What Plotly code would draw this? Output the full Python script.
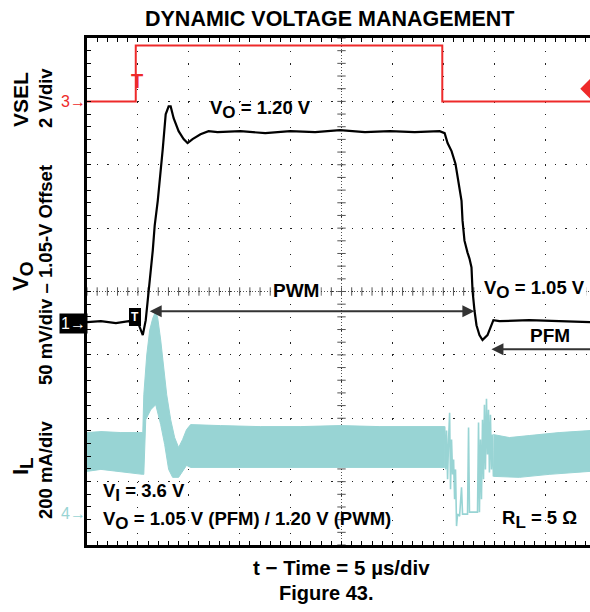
import numpy as np
import plotly.graph_objects as go

# ---------------- data (read from the scope shot) ----------------
# time in µs measured from the left edge of the screen, 5 µs/div
US_PER_DIV = 5
X_SPAN_US = 49.41          # visible part of the 10-div screen

# CH3 : VSEL (V)
vsel_t = [0.0, 4.79, 4.79, 34.9, 34.9, 49.41]
vsel_v = [0.0, 0.0, 1.76, 1.76, 0.0, 0.0]
vsel_trig_v = 0.4

# CH1 : VO (V)
vo_t = [0.00, 1.37, 2.84, 4.11, 4.99, 5.48, 5.77, 6.07, 6.46, 6.65, 6.95, 7.44, 7.73, 8.02,
        8.22, 8.51, 9.00, 9.49, 9.88, 10.37, 11.15, 11.94, 12.82, 15.07, 17.51, 19.96, 22.41,
        24.85, 27.30, 29.75, 32.19, 34.64, 35.13, 35.42, 35.81, 36.20, 36.40, 36.60, 36.79,
        36.89, 37.08, 37.38, 37.57, 37.77, 37.87, 38.06, 38.26, 38.55, 38.85, 39.34, 39.73,
        39.92, 40.51, 43.44, 46.38, 49.41]
vo_v = [1.0508, 1.0516, 1.0500, 1.0516, 1.0508, 1.0406, 1.0524, 1.0743, 1.1073, 1.1269,
        1.1465, 1.1874, 1.2148, 1.2210, 1.2210, 1.2117, 1.2015, 1.1952, 1.1921, 1.1952,
        1.1991, 1.2015, 1.2007, 1.2015, 1.1999, 1.2015, 1.2007, 1.2023, 1.2007, 1.2015,
        1.2007, 1.2015, 1.1999, 1.1921, 1.1858, 1.1756, 1.1662, 1.1544, 1.1465, 1.1309,
        1.1151, 1.1057, 1.1010, 1.0940, 1.0759, 1.0602, 1.0484, 1.0406, 1.0367, 1.0406,
        1.0484, 1.0524, 1.0516, 1.0524, 1.0516, 1.0508]

# CH4 : IL (mA) – switching-ripple envelope, start-up + PWM part
il1_top_t = [0.0, 1.37, 3.33, 5.48, 5.58, 5.87, 6.16, 6.46, 6.75, 6.95, 7.24, 7.53, 7.83,
             8.22, 8.61, 9.00, 9.39, 9.78, 10.18, 13.11, 17.03, 20.94, 24.85, 28.77, 32.68, 35.13]
il1_top_i = [254.8, 257.9, 254.8, 254.8, 374.1, 499.7, 578.2, 615.9, 637.8, 615.9, 546.8,
             452.6, 374.1, 295.6, 239.1, 207.7, 232.8, 264.2, 279.9, 276.8, 273.6, 273.6,
             276.8, 273.6, 273.6, 273.6]
il1_bot_t = [0.0, 1.37, 3.33, 5.48, 5.58, 5.77, 6.26, 6.75, 7.24, 7.63, 8.02, 8.41, 9.00,
             9.39, 9.78, 10.18, 13.11, 20.94, 28.77, 35.13]
il1_bot_i = [132.3, 138.6, 132.3, 122.9, 122.9, 295.6, 327.0, 342.7, 279.9, 217.1, 138.6,
             113.5, 113.5, 132.3, 151.2, 144.9, 144.9, 144.9, 144.9, 144.9]
# transition PWM -> PFM
ild_t = [35.13, 35.23, 35.32, 35.42, 35.52, 35.62, 35.71, 35.81, 35.91, 36.01, 36.11, 36.20,
         36.30, 36.40, 36.60, 36.79, 36.89, 37.38, 37.48, 37.57, 38.36, 38.46, 38.55, 38.65,
         38.75, 38.85, 38.95, 39.04, 39.14, 39.24, 39.34, 39.44, 39.53, 39.63, 39.73, 39.83, 39.92]
ild_i = [273.6, 138.6, 261.1, 107.2, 232.8, 317.6, 75.8, 232.8, 122.9, 170.0, 44.4, 138.6,
         -40.3, -2.7, -8.9, 82.1, -2.7, -2.7, 270.5, 3.6, 3.6, 286.2, 3.6, 232.8, 44.4, 295.6,
         107.2, 342.7, 138.6, 361.5, 185.7, 327.0, 129.2, 311.3, 138.6, 248.5, 116.6]
# PFM part
il2_top_t = [39.92, 41.49, 43.44, 46.38, 49.41]
il2_top_i = [248.5, 239.1, 245.4, 254.8, 261.1]
il2_bot_t = [39.92, 42.47, 45.40, 49.41]
il2_bot_i = [116.6, 113.5, 122.9, 132.3]

# channel settings (ground-marker position in divisions, scale per div)
N_DIV_Y = 8
CH3_POS, CH3_SCALE = 7.0, 2.0          # V/div
CH1_POS, CH1_SCALE, CH1_OFFS = 3.5, 0.05, 1.05
CH4_POS, CH4_SCALE = 0.5, 200.0        # mA/div

# ---------------- styling ----------------
RED = "#ee2a2a"
CYAN = "#98d4d4"
FONT = "Liberation Sans, Arial, sans-serif"
W, H = 590, 612
L, R, T, B = 87, 0, 38, 67
PW, PH = W - L - R, H - T - B


def P(px, py):
    return (px - L) / PW, (H - B - py) / PH


fig = go.Figure()

# current band(s)
fig.add_trace(go.Scatter(x=il1_top_t + il1_bot_t[::-1], y=il1_top_i + il1_bot_i[::-1],
                         fill="toself", fillcolor=CYAN, mode="lines",
                         line=dict(color=CYAN, width=1), yaxis="y4", hoverinfo="skip"))
fig.add_trace(go.Scatter(x=il2_top_t + il2_bot_t[::-1], y=il2_top_i + il2_bot_i[::-1],
                         fill="toself", fillcolor=CYAN, mode="lines",
                         line=dict(color=CYAN, width=1), yaxis="y4", hoverinfo="skip"))
fig.add_trace(go.Scatter(x=ild_t, y=ild_i, mode="lines",
                         line=dict(color=CYAN, width=1.6), yaxis="y4", hoverinfo="skip"))
# VSEL
fig.add_trace(go.Scatter(x=vsel_t, y=vsel_v, mode="lines",
                         line=dict(color=RED, width=2), yaxis="y2"))
fig.add_trace(go.Scatter(x=[X_SPAN_US], y=[vsel_trig_v], mode="markers",
                         marker=dict(symbol="diamond", size=15, color=RED), yaxis="y2",
                         cliponaxis=False))
# VO
fig.add_trace(go.Scatter(x=vo_t, y=vo_v, mode="lines",
                         line=dict(color="black", width=2.2), yaxis="y3"))

# centre cross-hair ticks of the graticule
cx = US_PER_DIV * 5
ticks_x = np.arange(0, X_SPAN_US, US_PER_DIV / 5)
ticks_y = np.arange(0, N_DIV_Y + 0.01, 0.2)
fig.add_trace(go.Scatter(x=ticks_x, y=[N_DIV_Y / 2] * len(ticks_x), mode="markers",
                         marker=dict(symbol="line-ns", size=6, line=dict(color="#555", width=1)),
                         hoverinfo="skip"))
fig.add_trace(go.Scatter(x=[cx] * len(ticks_y), y=ticks_y, mode="markers",
                         marker=dict(symbol="line-ew", size=6, line=dict(color="#555", width=1)),
                         hoverinfo="skip"))

shapes = [
    dict(type="line", xref="x", yref="y", x0=0, x1=X_SPAN_US, y0=N_DIV_Y / 2, y1=N_DIV_Y / 2,
         line=dict(color="#555", width=1, dash="1px,2px"), layer="below"),
    dict(type="line", xref="x", yref="y", x0=cx, x1=cx, y0=0, y1=N_DIV_Y,
         line=dict(color="#555", width=1, dash="1px,2px"), layer="below"),
]

ann = []
SUB = '<sub><span style="font-size:{}px">{}</span></sub>'


def text(px, py, s, size=19, color="black", xanchor="center", angle=0, bold=True, **kw):
    x, y = P(px, py)
    ann.append(dict(x=x, y=y, xref="paper", yref="paper", text=s, showarrow=False,
                    xanchor=xanchor, yanchor="middle", textangle=angle,
                    font=dict(family=FONT, size=size, color=color,
                              weight="bold" if bold else "normal"), **kw))


text(329, 19, "DYNAMIC VOLTAGE MANAGEMENT", size=21.5)
text(21, 100, "VSEL", size=21, angle=-90)
text(45, 98, "2 V/div", size=18.5, angle=-90)
text(22, 277, "V" + SUB.format(19, "O"), size=22, angle=-90)
text(45, 275, "50 mV/div \u2013 1.05-V Offset", size=18.5, angle=-90)
text(22, 466, "I" + SUB.format(19, "L"), size=22, angle=-90)
text(45, 470, "200 mA/div", size=18.5, angle=-90)

text(208, 110, "V" + SUB.format(17, "O") + " = 1.20 V", size=18.5, xanchor="left")
text(296, 290, "PWM", size=19, bgcolor="white")
text(482, 289, "V" + SUB.format(17, "O") + " = 1.05 V", size=18.5, xanchor="left",
     bgcolor="white")
text(550, 335, "PFM", size=19)
text(101, 492, "V" + SUB.format(17, "I") + " = 3.6 V", size=18.5, xanchor="left")
text(101, 520, "V" + SUB.format(17, "O") + " = 1.05 V (PFM) / 1.20 V (PWM)", size=18.5,
     xanchor="left")
text(500, 519, "R" + SUB.format(17, "L") + " = 5 \u03a9", size=18.5, xanchor="left")
text(341, 567, "t \u2212 Time = 5 \u00b5s/div", size=20.5)
text(326, 593, "Figure 43.", size=20)

# channel ground markers
for yref, yv, s, col, extra in [("y2", 0.0, "3\u2192", RED, {}),
                                ("y3", CH1_OFFS, "1\u2192", "white", dict(bgcolor="black")),
                                ("y4", 0.0, "4\u2192", CYAN, {})]:
    ann.append(dict(x=P(73.5, 0)[0], y=yv, xref="paper", yref=yref, text=s, showarrow=False,
                    xanchor="center", yanchor="middle",
                    font=dict(family=FONT, size=16, color=col), borderpad=1, **extra))
# trigger markers
text(136.5, 81, "T", size=20, color=RED)
text(135, 317, "T", size=12, color="white", bgcolor="black", borderpad=1, bordercolor="black")

# PWM / PFM arrows
ann.append(dict(x=6.16, y=CH1_OFFS + 0.0095, ax=38.2, ay=CH1_OFFS + 0.0095, xref="x", yref="y3",
                axref="x", ayref="y3", text="", showarrow=True, arrowhead=2, startarrowhead=2,
                arrowside="end+start", arrowsize=1.2, startarrowsize=1.2, arrowwidth=2,
                arrowcolor="#333"))
ann.append(dict(x=39.73, y=CH1_OFFS - 0.0205, ax=52, ay=CH1_OFFS - 0.0205, xref="x", yref="y3",
                axref="x", ayref="y3", text="", showarrow=True, arrowhead=2, arrowsize=1.2,
                arrowwidth=2, arrowcolor="#333"))

ydiv_h = PH / N_DIV_Y
xdiv_w = PW / (X_SPAN_US / US_PER_DIV)

fig.update_layout(
    width=W, height=H, margin=dict(l=L, r=R, t=T, b=B),
    paper_bgcolor="white", plot_bgcolor="white", showlegend=False,
    shapes=shapes, annotations=ann,
    xaxis=dict(range=[0, X_SPAN_US], tick0=0, dtick=US_PER_DIV, showgrid=True,
               gridcolor="#222", gridwidth=1.2,
               griddash=f"1.2px,{ydiv_h / 5 - 1.2:.2f}px",
               showline=True, linewidth=3, linecolor="black", mirror="allticks",
               ticks="inside", ticklen=4, tickcolor="black", showticklabels=False,
               zeroline=False,
               minor=dict(dtick=US_PER_DIV / 5, ticks="inside", ticklen=4,
                          tickcolor="black", showgrid=False)),
    yaxis=dict(range=[0, N_DIV_Y], tick0=0, dtick=1, showgrid=True,
               gridcolor="#222", gridwidth=1.2,
               griddash=f"1.2px,{xdiv_w / 5 - 1.2:.2f}px",
               showline=True, linewidth=3, linecolor="black",
               ticks="inside", ticklen=4, tickcolor="black", showticklabels=False,
               zeroline=False,
               minor=dict(dtick=0.2, ticks="inside", ticklen=4, tickcolor="black",
                          showgrid=False)),
    yaxis2=dict(overlaying="y", visible=False,
                range=[-CH3_POS * CH3_SCALE, (N_DIV_Y - CH3_POS) * CH3_SCALE]),
    yaxis3=dict(overlaying="y", visible=False,
                range=[CH1_OFFS - CH1_POS * CH1_SCALE, CH1_OFFS + (N_DIV_Y - CH1_POS) * CH1_SCALE]),
    yaxis4=dict(overlaying="y", visible=False,
                range=[-CH4_POS * CH4_SCALE, (N_DIV_Y - CH4_POS) * CH4_SCALE]),
)

fig.write_html("out.html", config={"displayModeBar": False},
               post_script="document.body.style.margin='0';document.body.style.overflow='hidden';")
